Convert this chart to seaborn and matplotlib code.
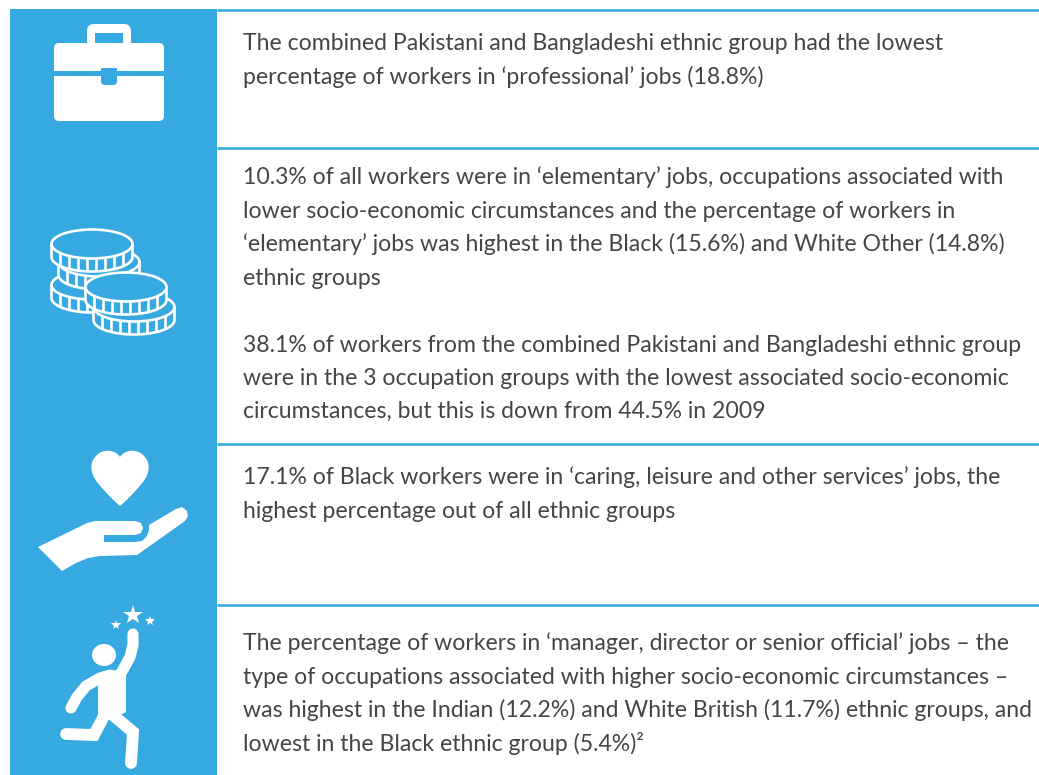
import matplotlib
matplotlib.use("Agg")
import matplotlib.pyplot as plt
import numpy as np
import seaborn as sns
from matplotlib.patches import Ellipse, FancyBboxPatch, PathPatch, Polygon, Rectangle
from matplotlib.path import Path

BLUE = "#36a9e1"
TEXT = "#454545"

block_one = [
    "The combined Pakistani and Bangladeshi ethnic group had the lowest",
    "percentage of workers in ‘professional’ jobs (18.8%)",
]
block_two = [
    "10.3% of all workers were in ‘elementary’ jobs, occupations associated with",
    "lower socio-economic circumstances and the percentage of workers in",
    "‘elementary’ jobs was highest in the Black (15.6%) and White Other (14.8%)",
    "ethnic groups",
]
block_three = [
    "38.1% of workers from the combined Pakistani and Bangladeshi ethnic group",
    "were in the 3 occupation groups with the lowest associated socio-economic",
    "circumstances, but this is down from 44.5% in 2009",
]
block_four = [
    "17.1% of Black workers were in ‘caring, leisure and other services’ jobs, the",
    "highest percentage out of all ethnic groups",
]
block_five = [
    "The percentage of workers in ‘manager, director or senior official’ jobs – the",
    "type of occupations associated with higher socio-economic circumstances –",
    "was highest in the Indian (12.2%) and White British (11.7%) ethnic groups, and",
    "lowest in the Black ethnic group (5.4%)²",
]


def draw_briefcase(ax):
    ax.add_patch(FancyBboxPatch((92, 29), 34, 20, boxstyle="round,pad=5,rounding_size=7", fc="white", ec="none"))
    ax.add_patch(Rectangle((95, 33), 28, 12, fc=BLUE, ec="none"))
    ax.add_patch(FancyBboxPatch((58, 47), 102, 70, boxstyle="round,pad=4,rounding_size=5", fc="white", ec="none"))
    ax.add_patch(Rectangle((54, 71), 110, 5, fc=BLUE, ec="none"))
    ax.add_patch(FancyBboxPatch((105, 72), 8, 9, boxstyle="round,pad=4,rounding_size=4", fc=BLUE, ec="none"))
    ax.add_patch(Rectangle((101, 68), 16, 8, fc=BLUE, ec="none"))


def draw_coin(ax, cx, cy, z):
    a, b, t = 40.5, 14.5, 13
    theta = np.linspace(0, np.pi, 40)
    xs = cx + a * np.cos(theta)
    ys = cy + b * np.sin(theta) + t
    edge = np.column_stack([np.r_[cx + a, xs, cx - a], np.r_[cy, ys, cy]])
    ax.add_patch(Polygon(edge, closed=True, fc=BLUE, ec="white", lw=1.9, joinstyle="round", zorder=z))
    for x_off in [-32, -23, -14, -5, 4, 13, 22, 31]:
        y0 = cy + b * np.sqrt(1 - (x_off / a) ** 2)
        ax.plot([cx + x_off, cx + x_off], [y0, y0 + t], color="white", lw=1.9, solid_capstyle="butt", zorder=z)
    ax.add_patch(Ellipse((cx, cy), 2 * a, 2 * b, fc=BLUE, ec="white", lw=1.9, zorder=z))


def draw_heart(ax):
    verts = [(120, 457), (115, 449), (102, 449), (97, 455), (88, 463), (91, 474), (97, 482),
             (105, 492), (113, 500), (120, 506), (127, 500), (135, 492), (143, 482),
             (149, 474), (152, 463), (143, 455), (137, 449), (125, 449), (120, 457)]
    codes = [Path.MOVETO] + [Path.CURVE4] * 18
    ax.add_patch(PathPatch(Path(verts, codes), fc="white", ec="none"))


def draw_hand(ax):
    pts = [(38, 547), (87, 523), (95, 521), (135, 521), (141, 523), (143, 528), (141, 533), (135, 535),
           (104, 535), (104, 542), (135, 542), (142, 541), (147, 536), (149, 530), (149, 525),
           (176, 509), (182, 507), (187, 511), (188, 516), (185, 521), (137, 555), (100, 556),
           (88, 558), (76, 563), (62, 571)]
    ax.add_patch(Polygon(pts, closed=True, fc="white", ec="none", joinstyle="round"))


def draw_person(ax):
    ax.add_patch(Ellipse((104, 655), 24, 22, fc="white", ec="none"))
    ax.add_patch(Polygon([(98, 680), (108, 672), (120, 669), (126, 672), (126, 712), (113, 719), (98, 722)],
                         closed=True, fc="white", ec="none"))
    ax.plot([133, 133, 130, 124, 120], [634, 645, 657, 668, 675], color="white", lw=8, solid_capstyle="round", solid_joinstyle="round")
    ax.plot([71, 77, 86, 100, 110], [708, 697, 686, 678, 675], color="white", lw=8, solid_capstyle="round", solid_joinstyle="round")
    ax.plot([114, 133, 131], [716, 732, 763], color="white", lw=8.5, solid_capstyle="round", solid_joinstyle="miter")
    ax.plot([104, 94, 66], [716, 735, 734], color="white", lw=8.5, solid_capstyle="round", solid_joinstyle="miter")
    ax.plot([133], [615], marker="*", color="white", ms=15, mew=0)
    ax.plot([116, 150], [625, 621], ls="none", marker="*", color="white", ms=7.5, mew=0)


sns.set_theme(style="white")
plt.rcParams["font.family"] = ["Lato", "DejaVu Sans"]

fig, ax = plt.subplots(figsize=(10.39, 7.75), dpi=100)
ax.set_position([0, 0, 1, 1])
ax.set_xlim(0, 1039)
ax.set_ylim(775, 0)
ax.axis("off")
sns.despine(ax=ax, left=True, bottom=True)

ax.add_patch(Rectangle((10, 9), 207, 766, fc=BLUE, ec="none"))
for y in [10, 148, 444, 605]:
    ax.plot([217, 1039], [y, y], color=BLUE, lw=1.9, solid_capstyle="butt")

draw_briefcase(ax)
for z, (cx, cy) in enumerate([(92, 285), (99, 262), (92, 244), (134, 307), (126, 287)]):
    draw_coin(ax, cx, cy, 3 + z)
draw_heart(ax)
draw_hand(ax)
draw_person(ax)

for lines, y0 in [(block_one, 50.5), (block_two, 184.5), (block_three, 351.5), (block_four, 484.5), (block_five, 650.5)]:
    for i, line in enumerate(lines):
        ax.text(243, y0 + i * 33.4, line, fontsize=16.6, color=TEXT, va="baseline", ha="left")

fig.savefig("out.png", dpi=100)
